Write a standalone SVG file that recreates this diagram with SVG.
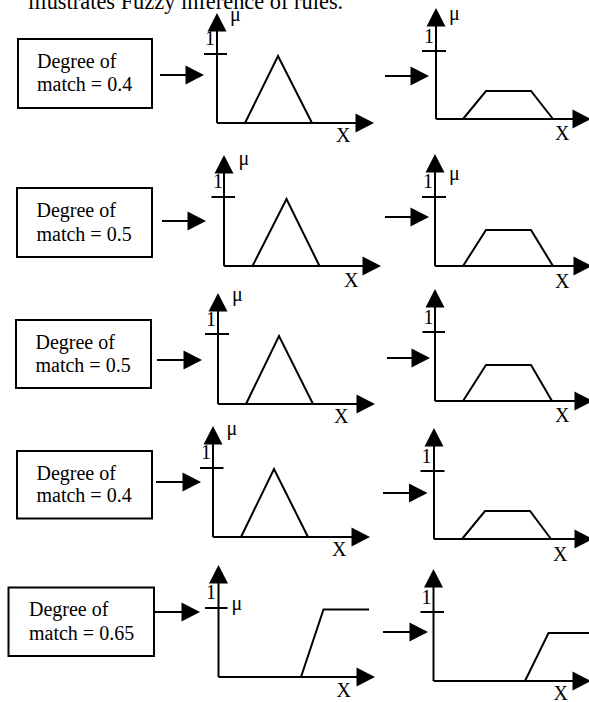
<svg xmlns="http://www.w3.org/2000/svg" width="589" height="702" viewBox="0 0 589 702">
<style>
text{font-family:"Liberation Serif","Times New Roman",serif;fill:#000}
.t{font-size:20px}
.title{font-size:22.4px}
.box{fill:#fff;stroke:#000;stroke-width:2}
.ln{stroke:#000;stroke-width:2;fill:none}
.ar{stroke:#000;stroke-width:2;fill:none;marker-end:url(#ah)}
</style>
<defs>
<marker id="ah" markerUnits="userSpaceOnUse" markerWidth="20" markerHeight="20" refX="0.5" refY="9.5" orient="auto" overflow="visible">
<path d="M0,0 L18.5,9.5 L0,19 Z" fill="#000"/>
</marker>
</defs>
<rect width="589" height="702" fill="#fff"/>
<text class="title" x="28" y="9">illustrates Fuzzy inference of rules.</text>

<!-- Row 1 -->
<g id="box1"><rect class="box" x="18" y="39" width="134" height="69"/><text class="t" x="37" y="68">Degree of</text><text class="t" x="37" y="91">match = 0.4</text></g>
<g id="g1a">
<line class="ar" x1="217" y1="123" x2="217" y2="31"/><line class="ar" x1="217" y1="123" x2="356" y2="123"/>
<line class="ln" x1="204" y1="54" x2="227" y2="54"/>
<text class="t" x="205" y="45">1</text><text class="t" x="230" y="21">μ</text>
<polyline class="ln" points="245,123 278,56 312,123"/>
<text class="t" x="336" y="142">X</text>
</g>
<g id="g1b">
<line class="ar" x1="436" y1="119" x2="436" y2="26"/><line class="ar" x1="436" y1="119" x2="573" y2="119"/>
<line class="ln" x1="422" y1="51" x2="446" y2="51"/>
<text class="t" x="424" y="43">1</text><text class="t" x="449" y="20">μ</text>
<polyline class="ln" points="463,119 486,91 531,91 553,119"/>
<text class="t" x="555" y="140">X</text>
</g>

<!-- Row 2 -->
<g id="box2"><rect class="box" x="17" y="188" width="135" height="69"/><text class="t" x="36.5" y="216.5">Degree of</text><text class="t" x="36.5" y="240.5">match = 0.5</text></g>
<g id="g2a">
<line class="ar" x1="224" y1="266" x2="224" y2="173"/><line class="ar" x1="224" y1="266" x2="363" y2="266"/>
<line class="ln" x1="211.5" y1="197" x2="235" y2="197"/>
<text class="t" x="213" y="188">1</text><text class="t" x="238.5" y="165">μ</text>
<polyline class="ln" points="252.5,266 286.5,199 319.5,266"/>
<text class="t" x="344" y="286.5">X</text>
</g>
<g id="g2b">
<line class="ar" x1="435" y1="266" x2="435" y2="172"/><line class="ar" x1="435" y1="266" x2="574" y2="266"/>
<line class="ln" x1="422" y1="197" x2="446" y2="197"/>
<text class="t" x="423" y="188">1</text><text class="t" x="449" y="180">μ</text>
<polyline class="ln" points="463,266 486,230 531,230 553,266"/>
<text class="t" x="555" y="288">X</text>
</g>

<!-- Row 3 -->
<g id="box3"><rect class="box" x="16" y="320" width="135" height="68"/><text class="t" x="35.5" y="348.5">Degree of</text><text class="t" x="35.5" y="371.5">match = 0.5</text></g>
<g id="g3a">
<line class="ar" x1="218" y1="404" x2="218" y2="311"/><line class="ar" x1="218" y1="404" x2="357" y2="404"/>
<line class="ln" x1="205" y1="334" x2="229" y2="334"/>
<text class="t" x="206" y="326">1</text><text class="t" x="232" y="300.5">μ</text>
<polyline class="ln" points="246,404 279,336 313,404"/>
<text class="t" x="334" y="423">X</text>
</g>
<g id="g3b">
<line class="ar" x1="435" y1="401" x2="435" y2="307"/><line class="ar" x1="435" y1="401" x2="575" y2="401"/>
<line class="ln" x1="422.5" y1="332" x2="445" y2="332"/>
<text class="t" x="423.5" y="323.5">1</text>
<polyline class="ln" points="463,401 486,365 531,365 552,401"/>
<text class="t" x="555" y="421.5">X</text>
</g>

<!-- Row 4 -->
<g id="box4"><rect class="box" x="17" y="451" width="135" height="67.5"/><text class="t" x="36.5" y="479.5">Degree of</text><text class="t" x="36.5" y="502">match = 0.4</text></g>
<g id="g4a">
<line class="ar" x1="213" y1="537" x2="213" y2="444"/><line class="ar" x1="213" y1="537" x2="352" y2="537"/>
<line class="ln" x1="200" y1="468" x2="223.5" y2="468"/>
<text class="t" x="201" y="459">1</text><text class="t" x="226.5" y="435">μ</text>
<polyline class="ln" points="241,537 274,469 308,537"/>
<text class="t" x="332" y="556">X</text>
</g>
<g id="g4b">
<line class="ar" x1="434" y1="539" x2="434" y2="446"/><line class="ar" x1="434" y1="539" x2="575" y2="539"/>
<line class="ln" x1="420.5" y1="471" x2="444.5" y2="471"/>
<text class="t" x="421.5" y="462.5">1</text>
<polyline class="ln" points="462,539 485,511 530,511 551,539"/>
<text class="t" x="553" y="561">X</text>
</g>

<!-- Row 5 -->
<g id="box5"><rect class="box" x="8.5" y="587.5" width="145.5" height="68.5"/><text class="t" x="29" y="615.5">Degree of</text><text class="t" x="29" y="639.5">match = 0.65</text></g>
<g id="g5a">
<line class="ar" x1="218.5" y1="677" x2="218.5" y2="583"/><line class="ar" x1="218.5" y1="677" x2="357" y2="677"/>
<line class="ln" x1="205" y1="608" x2="227.5" y2="608"/>
<text class="t" x="206" y="599">1</text><text class="t" x="231.5" y="610">μ</text>
<polyline class="ln" points="301,677 323.5,609.5 369,609.5"/>
<text class="t" x="336.5" y="696.5">X</text>
</g>
<g id="g5b">
<line class="ar" x1="433.5" y1="681" x2="433.5" y2="587"/><line class="ar" x1="433.5" y1="681" x2="573" y2="681"/>
<line class="ln" x1="420.5" y1="612" x2="444" y2="612"/>
<text class="t" x="421.5" y="604">1</text>
<polyline class="ln" points="525,681 548.5,633 590,633"/>
<text class="t" x="553.5" y="700">X</text>
</g>

<!-- Connectors -->
<g id="connectors">
<line class="ar" x1="160" y1="75" x2="186" y2="75"/>
<line class="ar" x1="385" y1="76" x2="411" y2="76"/>
<line class="ar" x1="162" y1="221" x2="188" y2="221"/>
<line class="ar" x1="385" y1="217" x2="411" y2="217"/>
<line class="ar" x1="157" y1="360" x2="184" y2="360"/>
<line class="ar" x1="387" y1="358" x2="412" y2="358"/>
<line class="ar" x1="156" y1="482" x2="183" y2="482"/>
<line class="ar" x1="383" y1="493" x2="409.5" y2="493"/>
<line class="ar" x1="154" y1="612" x2="182" y2="612"/>
<line class="ar" x1="383" y1="632" x2="410" y2="632"/>
</g>
</svg>
